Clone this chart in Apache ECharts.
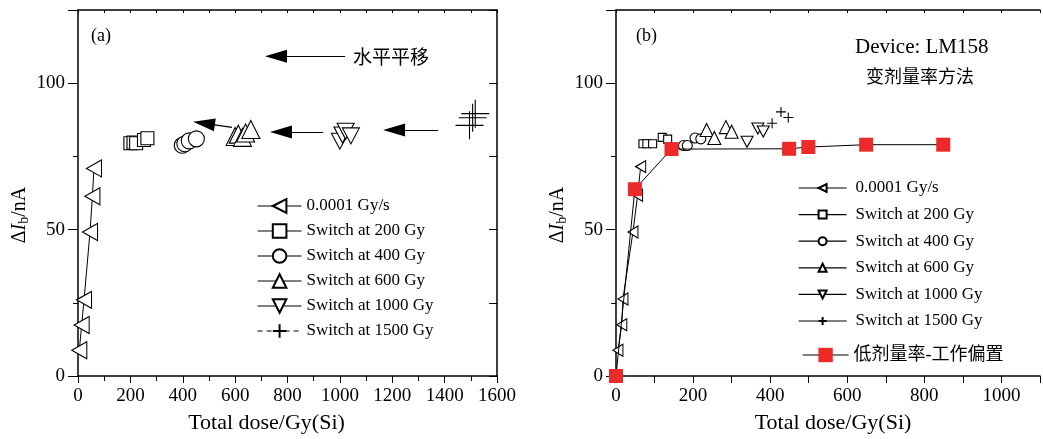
<!DOCTYPE html>
<html><head><meta charset="utf-8">
<script src="https://cdn.jsdelivr.net/npm/echarts@6/dist/echarts.min.js"></script>
<style>html,body{margin:0;padding:0;background:#fff}#c{width:1043px;height:439px}</style>
</head><body><div id="c"></div>
<script>
// ---------- data ----------
const seriesNames = ['0.0001 Gy/s', 'Switch at 200 Gy', 'Switch at 400 Gy', 'Switch at 600 Gy', 'Switch at 1000 Gy', 'Switch at 1500 Gy'];
const lowName = '低剂量率-工作偏置';

// panel (a): horizontally shifted curves
const aRate   = [[5, 8.8], [14, 17.4], [23, 26], [46, 49.2], [55, 61.4], [61, 70.9]];
const aS200   = [[200, 79.5], [212, 79.7], [222, 79.5], [252, 80.6], [265, 81.2]];
const aS400   = [[398, 78.8], [408, 79.3], [425, 80.3], [452, 81]];
const aS600   = [[600, 81.8], [612, 82.6], [628, 81.5], [640, 83], [660, 84.2]];
const aS1000  = [[1000, 80.2], [1010, 82.3], [1022, 83.6], [1042, 82]];
const aS1500  = [[1495, 85.6], [1507, 88.2], [1517, 89.6]];
const aArrows = [[[1375, 84], [1207, 84]], [[936, 83.3], [775, 83.3]], [[588, 84.9], [481, 86.3]], [[1020, 109.2], [756, 109.2]]];

// panel (b): variable dose-rate method
const bRate   = [[5, 8.8], [15, 17.5], [18, 26.3], [44, 49.2], [56, 61.7], [64, 71.5]];
const bS200   = [[70, 79.3], [80, 79.3], [95, 79.3], [120, 81.5], [134, 80.9]];
const bS400   = [[175, 78.7], [185, 78.7], [205, 81.3], [220, 81]];
const bS600   = [[235, 84], [255, 81.3], [285, 85], [300, 83.4]];
const bS1000  = [[340, 80], [368, 84.5], [382, 83.5]];
const bS1500  = [[405, 86.3], [428, 90.2], [447, 88.3]];
const bLow    = [[0, 0], [49, 63.8], [144, 77.5], [449, 77.6], [499, 78.2], [649, 79], [849, 79]];

const xTicksA = {min: 0, max: 1600, step: 200};
const xTicksB = {min: 0, max: 1100, step: 100};
const yTicks  = {min: 0, max: 125, step: 50};

// ---------- styling ----------
const SERIF = '"Liberation Serif", "Times New Roman", serif';
const MIX = '"Liberation Serif", "Noto Sans CJK SC", serif';
const CJK = '"Noto Sans CJK SC", sans-serif';
const SYM = {
  left: 'path://M0,5L10,0L10,10Z',
  square: 'rect',
  circle: 'circle',
  up: 'path://M5,0L10,10L0,10Z',
  down: 'path://M0,0L10,0L5,10Z',
  plus: 'path://M0,5L10,5M5,0L5,10'
};

function mk(name, data, idx, sym, size, showLine, extra) {
  const s = {
    name, type: 'line', xAxisIndex: idx, yAxisIndex: idx, data,
    symbol: sym, symbolSize: size, showSymbol: true,
    itemStyle: {color: '#fff', borderColor: '#000', borderWidth: 1.1},
    lineStyle: {color: '#000', width: 1, opacity: showLine ? 1 : 0},
    emphasis: {disabled: true}, animation: false, z: 3
  };
  if (sym === SYM.plus) s.itemStyle = {color: '#000', borderColor: '#000', borderWidth: 1.1};
  return Object.assign(s, extra || {});
}

const yNameRich = {
  d: {fontFamily: SERIF, fontSize: 20, color: '#000'},
  i: {fontFamily: SERIF, fontSize: 20, fontStyle: 'italic', color: '#000'},
  b: {fontFamily: SERIF, fontSize: 14, color: '#000', verticalAlign: 'bottom', padding: [8, 0, 0, 0]},
  n: {fontFamily: SERIF, fontSize: 20, color: '#000'}
};
const yName = '{d|Δ}{i|I}{b|b}{n|/nA}';

function xAxisBottom(idx, t, labelStep, labelMax, namePad) {
  return {
    gridIndex: idx, type: 'value', position: 'bottom', min: t.min, max: t.max, interval: t.step,
    axisLine: {onZero: false, lineStyle: {color: '#000', width: 1.5}},
    axisTick: {inside: false, length: 7, lineStyle: {color: '#000', width: 1}},
    minorTick: idx === 0 ? {show: true, splitNumber: 2, length: 5, lineStyle: {color: '#000', width: 1}} : {show: false},
    splitLine: {show: false},
    axisLabel: {color: '#000', fontFamily: SERIF, fontSize: 19, margin: 11,
      formatter: v => (v % labelStep === 0 && v <= labelMax) ? String(v) : ''},
    name: 'Total dose/Gy(Si)', nameLocation: 'middle', nameGap: 36,
    nameTextStyle: {color: '#000', fontFamily: SERIF, fontSize: 22, padding: namePad}
  };
}
function xAxisTop(idx, t) {
  return {
    gridIndex: idx, type: 'value', position: 'top', min: t.min, max: t.max, interval: 100,
    axisLine: {onZero: false, lineStyle: {color: '#000', width: 1.5}},
    axisTick: {inside: true, length: 3, lineStyle: {color: '#000', width: 1}},
    axisLabel: {show: false}, splitLine: {show: false}
  };
}
function yAxisLeft(idx) {
  return {
    gridIndex: idx, type: 'value', position: 'left', min: yTicks.min, max: yTicks.max, interval: yTicks.step,
    axisLine: {onZero: false, lineStyle: {color: '#000', width: 1.5}},
    axisTick: {inside: false, length: 10, lineStyle: {color: '#000', width: 1}},
    minorTick: {show: true, splitNumber: 2, length: 5, lineStyle: {color: '#000', width: 1}},
    splitLine: {show: false},
    axisLabel: {color: '#000', fontFamily: SERIF, fontSize: 19, margin: 13,
      formatter: v => (v % 50 === 0) ? String(v) : ''},
    name: yName, nameLocation: 'middle', nameGap: 47, nameRotate: 90,
    nameTextStyle: {rich: yNameRich, padding: [0, 44, 0, 0]}
  };
}
function yAxisRight(idx) {
  return {
    gridIndex: idx, type: 'value', position: 'right', min: yTicks.min, max: yTicks.max, interval: 25,
    axisLine: {onZero: false, lineStyle: {color: '#000', width: 1.5}},
    axisTick: {inside: true, length: 8, lineStyle: {color: '#000', width: 1}},
    axisLabel: {show: false}, splitLine: {show: false}
  };
}

const arrowLines = {
  silent: true, symbol: ['none', 'triangle'], symbolSize: [13, 22],
  lineStyle: {color: '#000', width: 1.2, type: 'solid'},
  itemStyle: {color: '#000'},
  label: {show: false}, emphasis: {disabled: true}, animation: false,
  data: aArrows.map(a => [{coord: a[0]}, {coord: a[1]}])
};

const legendLine = (type) => ({color: '#000', width: 1.2, opacity: 1, type: type || 'solid'});

const option = {
  backgroundColor: '#fff',
  animation: false,
  grid: [
    {left: 78, top: 10, width: 419, height: 371},
    {left: 616, top: 10, width: 429, height: 371}
  ],
  xAxis: [xAxisBottom(0, xTicksA, 200, 1600, [0, 42, 0, 0]), xAxisBottom(1, xTicksB, 200, 1000, [0, 0, 0, 10]),
          xAxisTop(0, xTicksA), xAxisTop(1, xTicksB)],
  yAxis: [yAxisLeft(0), yAxisLeft(1), yAxisRight(0)],
  legend: [
    {
      left: 257, top: 197, orient: 'vertical', padding: 0,
      itemWidth: 44, itemHeight: 17, itemGap: 7, selectedMode: false,
      textStyle: {color: '#000', fontFamily: SERIF, fontSize: 17, lineHeight: 18},
      data: seriesNames.map((n, i) => ({name: n, lineStyle: legendLine(i === 5 ? [5, 4] : 'solid')}))
    },
    {
      left: 798, top: 179, orient: 'vertical', padding: 0,
      itemWidth: 48, itemHeight: 10, itemGap: 8.6, selectedMode: false,
      textStyle: {color: '#000', fontFamily: SERIF, fontSize: 17, lineHeight: 18, padding: [0, 0, 0, 4]},
      data: seriesNames.map(n => ({name: n, lineStyle: legendLine('solid')}))
    },
    {
      left: 802, top: 345, orient: 'vertical', padding: 0,
      itemWidth: 46, itemHeight: 18, selectedMode: false,
      textStyle: {color: '#000', fontFamily: MIX, fontSize: 18, lineHeight: 20},
      data: [{name: lowName, lineStyle: legendLine('solid')}]
    }
  ],
  title: [
    {text: '(a)', left: 91, top: 27, padding: 0, textStyle: {fontFamily: SERIF, fontSize: 18, fontWeight: 'normal', color: '#000'}},
    {text: '(b)', left: 636, top: 27, padding: 0, textStyle: {fontFamily: SERIF, fontSize: 18, fontWeight: 'normal', color: '#000'}},
    {text: 'Device: LM158', left: 855, top: 37, padding: 0, textStyle: {fontFamily: SERIF, fontSize: 21, fontWeight: 'normal', color: '#000'}},
    {text: '变剂量率方法', left: 866, top: 67, padding: 0, textStyle: {fontFamily: CJK, fontSize: 18, fontWeight: 'normal', color: '#000'}},
    {text: '水平平移', left: 353, top: 47, padding: 0, textStyle: {fontFamily: CJK, fontSize: 19, fontWeight: 'normal', color: '#000'}}
  ],
  series: [
    mk(seriesNames[0], aRate, 0, SYM.left, [15, 17], true, {markLine: arrowLines}),
    mk(seriesNames[1], aS200, 0, SYM.square, 13, false),
    mk(seriesNames[2], aS400, 0, SYM.circle, 16, false),
    mk(seriesNames[3], aS600, 0, SYM.up, [18, 18], false),
    mk(seriesNames[4], aS1000, 0, SYM.down, [17, 16], false),
    mk(seriesNames[5], aS1500, 0, SYM.plus, 28, false),

    mk(seriesNames[0], bRate, 1, SYM.left, [10, 12], true),
    mk(seriesNames[1], bS200, 1, SYM.square, 8, false),
    mk(seriesNames[2], bS400, 1, SYM.circle, 10, false),
    mk(seriesNames[3], bS600, 1, SYM.up, [13, 13], false),
    mk(seriesNames[4], bS1000, 1, SYM.down, [12, 11], false),
    mk(seriesNames[5], bS1500, 1, SYM.plus, 10, false),
    mk(lowName, bLow, 1, 'rect', 14, true, {itemStyle: {color: '#ec2a2a', borderColor: '#ec2a2a', borderWidth: 0}, z: 4})
  ]
};

const chart = echarts.init(document.getElementById('c'), null, {renderer: 'canvas'});
chart.setOption(option);
</script>
</body></html>
